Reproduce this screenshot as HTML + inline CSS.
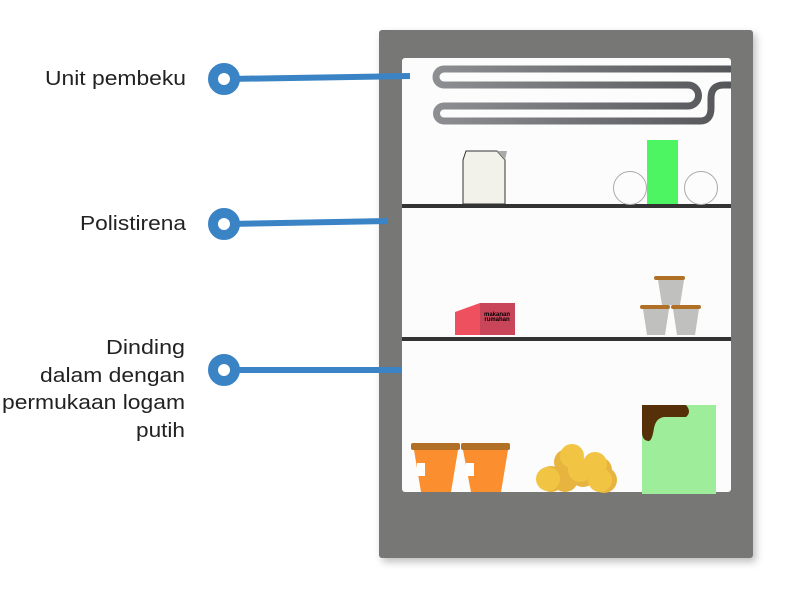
<!DOCTYPE html>
<html><head><meta charset="utf-8"><style>
html,body{margin:0;padding:0;background:#fff;width:804px;height:602px;overflow:hidden}
</style></head><body>
<svg width="804" height="602" viewBox="0 0 804 602" xmlns="http://www.w3.org/2000/svg">
<defs>
<linearGradient id="coil" x1="0" x2="1" y1="0" y2="0">
<stop offset="0" stop-color="#8d8e91"/><stop offset="1" stop-color="#55565a"/>
</linearGradient>
<filter id="sh" x="-10%" y="-10%" width="130%" height="130%"><feDropShadow dx="3" dy="4" stdDeviation="4" flood-color="#000" flood-opacity="0.25"/></filter>
</defs>
<rect x="379" y="30" width="374" height="528" rx="3" fill="#777775" filter="url(#sh)"/>
<rect x="402" y="58" width="329" height="434" rx="3" fill="#fcfcfc"/>
<path d="M731,69 H444 A8,8 0 0 0 444,85 H688 A10.5,10.5 0 0 1 688,106 H444 A7.5,7.5 0 0 0 444,121 H700 Q711,121 711,108 V98 Q711,85 724,85 H731" fill="none" stroke="url(#coil)" stroke-width="7"/>
<rect x="402" y="204" width="329" height="4" fill="#333"/>
<rect x="402" y="337" width="329" height="4" fill="#333"/>
<polygon points="466,151 497,151 505,160 505,204 463,204 463,160" fill="#f3f2ea" stroke="#333" stroke-width="1"/>
<polygon points="497,151 507,151 505,160" fill="#aaa"/>
<rect x="647" y="140" width="31" height="64" fill="#4df562"/>
<circle cx="630" cy="188" r="16.5" fill="none" stroke="#aaa" stroke-width="1"/>
<circle cx="701" cy="188" r="16.5" fill="none" stroke="#aaa" stroke-width="1"/>
<polygon points="455,312 480,303 480,335 455,335" fill="#ef5060"/>
<rect x="480" y="303" width="35" height="32" fill="#c8455a"/>
<text x="497" y="316" font-family="Liberation Sans,sans-serif" font-size="6" font-weight="bold" text-anchor="middle" fill="#000">makanan</text>
<text x="497" y="321" font-family="Liberation Sans,sans-serif" font-size="6" font-weight="bold" text-anchor="middle" fill="#000">rumahan</text>
<g fill="#c0c0be">
<polygon points="658,280 684,280 680,305 662,305"/>
<polygon points="643,309 669,309 665,335 647,335"/>
<polygon points="673,309 699,309 695,335 677,335"/>
</g>
<g fill="#b07025">
<rect x="654" y="276" width="31" height="4" rx="2"/>
<rect x="640" y="305" width="30" height="4" rx="2"/>
<rect x="671" y="305" width="30" height="4" rx="2"/>
</g>
<polygon points="414,450 458,450 451,492 421,492" fill="#fb8f30"/>
<polygon points="463,450 508,450 501,492 471,492" fill="#fb8f30"/>
<rect x="417" y="463" width="8" height="13" fill="#fff"/>
<rect x="466" y="463" width="8" height="13" fill="#fff"/>
<rect x="411" y="443" width="49" height="7" rx="2" fill="#b07025"/>
<rect x="461" y="443" width="49" height="7" rx="2" fill="#b07025"/>
<g fill="#e7b43f">
<circle cx="567" cy="462" r="13"/><circle cx="599" cy="470" r="13"/>
<circle cx="565" cy="479" r="13"/><circle cx="583" cy="474" r="13"/>
<circle cx="551" cy="479" r="13"/><circle cx="604" cy="480" r="13"/>
</g>
<g fill="#f1c443">
<circle cx="572" cy="456" r="12"/><circle cx="595" cy="464" r="12"/>
<circle cx="580" cy="470" r="12"/><circle cx="548" cy="479" r="12"/>
<circle cx="600" cy="480" r="12"/>
</g>
<rect x="642" y="405" width="74" height="89" fill="#9ded9b"/>
<path d="M642,405 H686 Q692,412 686,417 H664 Q656,418 654,428 Q652,442 648,441 Q642,440 642,432 Z" fill="#553008"/>
<g stroke="#3a84c6" stroke-width="6" fill="none">
<line x1="228" y1="79" x2="410" y2="76"/>
<line x1="228" y1="224" x2="388" y2="221"/>
<line x1="228" y1="370" x2="401" y2="370"/>
</g>
<g fill="#fff" stroke="#3a84c6" stroke-width="10">
<circle cx="224" cy="79" r="11"/>
<circle cx="224" cy="224" r="11"/>
<circle cx="224" cy="370" r="11"/>
</g>
<g font-family="Liberation Sans,sans-serif" font-size="20" fill="#222" lengthAdjust="spacingAndGlyphs">
<text x="45" y="85" textLength="141" lengthAdjust="spacingAndGlyphs">Unit pembeku</text>
<text x="80" y="230" textLength="106" lengthAdjust="spacingAndGlyphs">Polistirena</text>
<text x="106" y="354" textLength="79" lengthAdjust="spacingAndGlyphs">Dinding</text>
<text x="40" y="382" textLength="145" lengthAdjust="spacingAndGlyphs">dalam dengan</text>
<text x="2" y="409" textLength="183" lengthAdjust="spacingAndGlyphs">permukaan logam</text>
<text x="136" y="437" textLength="49" lengthAdjust="spacingAndGlyphs">putih</text>
</g>
</svg>
</body></html>
